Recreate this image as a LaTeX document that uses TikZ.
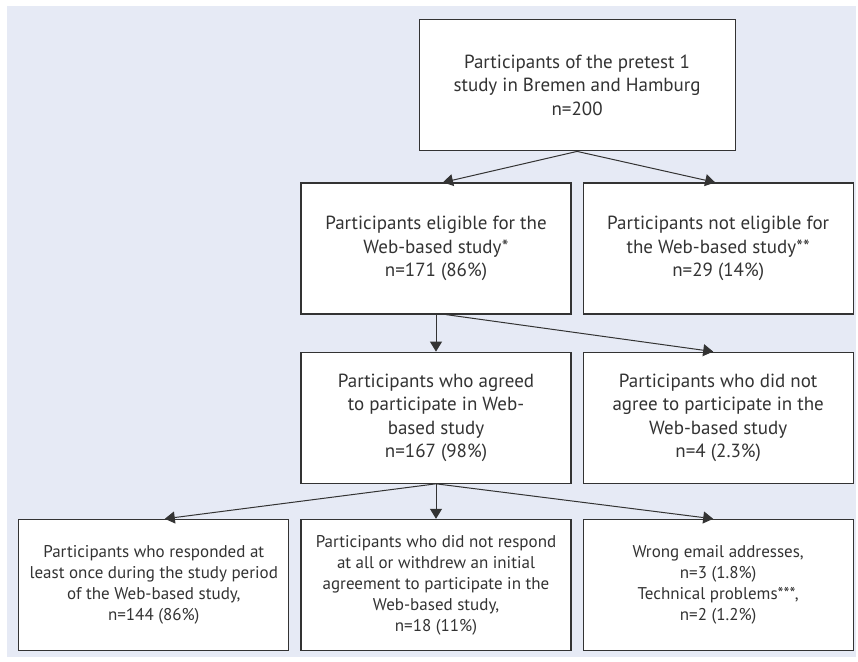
\documentclass[tikz,border=0pt]{standalone}
\usepackage{fontspec}
\setmainfont{PT Sans}
\usepackage{xcolor}
\usetikzlibrary{shapes,arrows.meta,positioning,calc}

\definecolor{panelblue}{RGB}{230,234,245}
\definecolor{boxline}{RGB}{51,51,51}

\begin{document}
\begin{tikzpicture}[
    node distance=5.5pt,
    box/.style={rectangle, draw=boxline, line width=0.6pt, fill=white, minimum width=135pt, minimum height=65.5pt, align=center, text=boxline, inner sep=2pt, font=\fontsize{9.5}{11.75}\selectfont},
    small/.style={font=\fontsize{8.5}{10.5}\selectfont},
    arrow/.style={-{Triangle[width=6pt,length=5pt]}, line width=0.5pt, draw=boxline}
]
    \useasboundingbox (0,0) rectangle (429pt,-330.5pt);
    \fill[panelblue] (3.5pt,-3pt) rectangle (428pt,-328.5pt);

    \node[box] (elig) at (218pt,-124.25pt) {Participants eligible for the\\Web-based study*\\n=171 (86\%)};
    \node[box, right=of elig] (notelig) {Participants not eligible for\\the Web-based study**\\n=29 (14\%)};
    \coordinate (gap) at ($(elig.north east)!0.5!(notelig.north west)$);
    \node[box, minimum width=158pt, above=15.5pt of gap] (pretest) {Participants of the pretest 1\\study in Bremen and Hamburg\\n=200};

    \node[box, below=18.5pt of elig] (agreed) {Participants who agreed\\to participate in Web-\\based study\\n=167 (98\%)};
    \node[box, right=of agreed] (notagreed) {Participants who did not\\agree to participate in the\\Web-based study\\n=4 (2.3\%)};

    \node[box, small, below=17.5pt of agreed] (nonresp) {Participants who did not respond\\at all or withdrew an initial\\agreement to participate in the\\Web-based study,\\n=18 (11\%)};
    \node[box, small, left=of nonresp] (resp) {Participants who responded at\\least once during the study period\\of the Web-based study,\\n=144 (86\%)};
    \node[box, small, right=of nonresp] (wrong) {Wrong email addresses,\\n=3 (1.8\%)\\Technical problems***,\\n=2 (1.2\%)};

    \draw[arrow] (pretest.south) -- ([xshift=3.5pt]elig.north);
    \draw[arrow] (pretest.south) -- ([xshift=-1.5pt]notelig.north);
    \draw[arrow] (elig.south) -- (agreed.north);
    \draw[arrow] ([xshift=5pt]elig.south) -- ([xshift=-2.5pt]notagreed.north);
    \draw[arrow] (agreed.south) -- (nonresp.north);
    \draw[arrow] (agreed.south) -- ([xshift=5.5pt]resp.north);
    \draw[arrow] (agreed.south) -- ([xshift=-2.5pt]wrong.north);
\end{tikzpicture}
\end{document}
